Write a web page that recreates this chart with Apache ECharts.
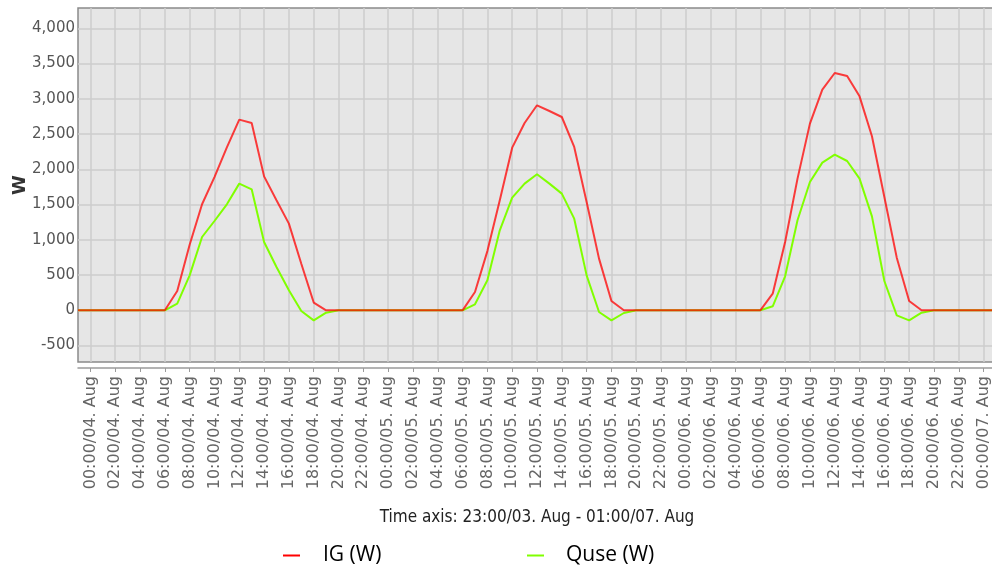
<!DOCTYPE html>
<html>
<head>
<meta charset="utf-8">
<script src="https://cdn.jsdelivr.net/npm/echarts@6/dist/echarts.min.js"></script>
<style>
html,body{margin:0;padding:0;background:#fff;overflow:hidden;}
#chart{width:992px;height:572px;}
</style>
</head>
<body>
<div id="chart"></div>
<script>
// Hourly categories from 23:00/03. Aug to 01:00/07. Aug
const categories = [];
for (let i = 0; i <= 74; i++) {
  const h = (23 + i) % 24;
  const d = 3 + Math.floor((23 + i) / 24);
  categories.push((h < 10 ? '0' : '') + h + ':00/0' + d + '. Aug');
}

const igValues = [
  0, 0, 0, 0, 0, 0, 0, 0, 274, 930,
  1504, 1890, 2310, 2705, 2657, 1900, 1560, 1230, 660, 110,
  0, 0, 0, 0, 0, 0, 0, 0, 0, 0,
  0, 0, 260, 840, 1560, 2307, 2657, 2908, 2827, 2742,
  2317, 1537, 733, 132, 0, 0, 0, 0, 0, 0,
  0, 0, 0, 0, 0, 0, 236, 969, 1868, 2648,
  3130, 3366, 3324, 3035, 2468, 1607, 747, 132, 0, 0,
  0, 0, 0, 0, 0
];

const quseValues = [
  0, 0, 0, 0, 0, 0, 0, 0, 95, 496,
  1040, 1267, 1504, 1797, 1716, 969, 615, 284, -10, -142,
  -33, 0, 0, 0, 0, 0, 0, 0, 0, 0,
  0, 0, 85, 426, 1135, 1598, 1797, 1929, 1797, 1655,
  1300, 496, -24, -142, -38, 0, 0, 0, 0, 0,
  0, 0, 0, 0, 0, 0, 57, 482, 1277, 1820,
  2095, 2208, 2118, 1868, 1333, 416, -71, -142, -33, 0,
  0, 0, 0, 0, 0
];

const yTicks = [-500, 0, 500, 1000, 1500, 2000, 2500, 3000, 3500, 4000];

function fmt(v) {
  const s = String(Math.abs(v));
  const out = s.replace(/\B(?=(\d{3})+(?!\d))/g, ',');
  return (v < 0 ? '-' : '') + out;
}

const chart = echarts.init(document.getElementById('chart'));
const everyTwo = function (index) { return index % 2 === 1; };

chart.setOption({
  animation: false,
  backgroundColor: '#ffffff',
  grid: {
    left: 78, width: 918, top: 8, bottom: 210,
    outerBoundsMode: 'none',
    containLabel: false,
    show: true,
    backgroundColor: '#e6e6e6',
    borderColor: '#8a8a8a',
    borderWidth: 1.5
  },
  legend: [
    {
      data: ['IG (W)'], left: 283, top: 545, padding: 0,
      icon: 'rect', itemWidth: 17, itemHeight: 2,
      textStyle: { fontFamily: 'Open Sans', fontSize: 21, color: '#000', padding: [0, 0, 0, 18] }
    },
    {
      data: ['Quse (W)'], left: 527, top: 545, padding: 0,
      icon: 'rect', itemWidth: 17, itemHeight: 2,
      textStyle: { fontFamily: 'Open Sans', fontSize: 21, color: '#000', padding: [0, 0, 0, 17] }
    }
  ],
  xAxis: {
    type: 'category',
    data: categories,
    boundaryGap: false,
    offset: 6,
    name: 'Time axis: 23:00/03. Aug - 01:00/07. Aug',
    nameLocation: 'middle',
    nameGap: 141,
    nameMoveOverlap: false,
    nameTextStyle: { fontFamily: "'DejaVu Sans Condensed', 'Liberation Sans Narrow', 'DejaVu Sans', sans-serif", fontSize: 17, color: '#222' },
    axisLine: { show: true, onZero: false, lineStyle: { color: '#9a9a9a', width: 1.5 } },
    axisTick: { show: true, interval: everyTwo, length: 4, lineStyle: { color: '#9a9a9a' } },
    axisLabel: {
      interval: everyTwo, rotate: 90, margin: 8,
      fontFamily: 'DejaVu Sans', fontSize: 16, color: '#666'
    },
    splitLine: { show: true, interval: everyTwo, lineStyle: { color: '#cdcdcd', width: 1.5 } }
  },
  yAxis: {
    type: 'value',
    min: -733,
    max: 4288,
    name: 'W',
    nameLocation: 'middle',
    nameRotate: 90,
    nameGap: 49,
    nameMoveOverlap: false,
    nameTextStyle: { fontFamily: 'DejaVu Sans', fontSize: 18, fontWeight: 'bold', color: '#333' },
    axisLine: { show: false },
    axisTick: { show: false, customValues: yTicks },
    axisLabel: {
      customValues: yTicks, margin: 3,
      fontFamily: 'DejaVu Sans', fontSize: 15, color: '#555',
      formatter: fmt
    },
    splitLine: { show: true, lineStyle: { color: '#cdcdcd', width: 1.5 } }
  },
  series: [
    {
      name: 'IG (W)', type: 'line', data: igValues,
      showSymbol: false, z: 3,
      color: '#ff0000',
      lineStyle: { color: '#ff0000', width: 2, opacity: 0.75 }
    },
    {
      name: 'Quse (W)', type: 'line', data: quseValues,
      showSymbol: false, z: 2,
      color: '#80ff00',
      lineStyle: { color: '#80ff00', width: 2 }
    }
  ]
});
</script>
</body>
</html>
